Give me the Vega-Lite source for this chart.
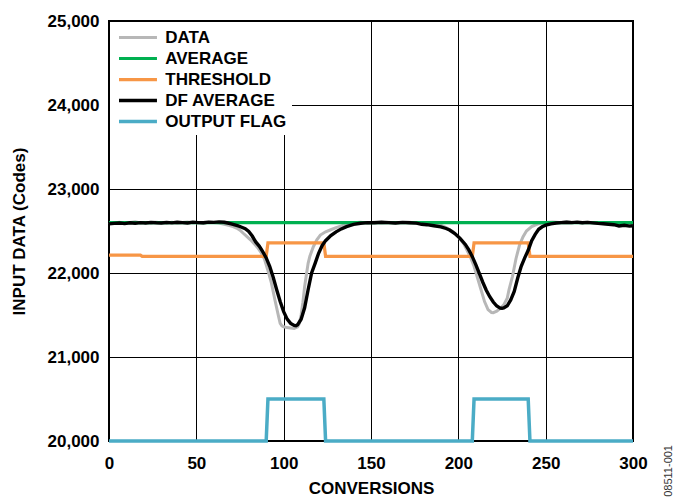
{
  "$schema": "https://vega.github.io/schema/vega-lite/v6.json",
  "width": 524,
  "height": 420,
  "autosize": {"type": "none"},
  "padding": {"left": 109, "top": 21, "right": 45, "bottom": 57},
  "background": "white",
  "config": {
    "font": "Liberation Sans",
    "view": {"stroke": "black", "strokeWidth": 2},
    "axis": {
      "grid": true, "gridColor": "black", "gridWidth": 1, "gridOpacity": 1,
      "domain": false, "ticks": false,
      "labelFont": "Liberation Sans", "labelFontWeight": "bold", "labelFontSize": 17, "labelColor": "black",
      "titleFont": "Liberation Sans", "titleFontWeight": "bold", "titleFontSize": 17, "titleColor": "black",
      "labelFlush": false, "labelOverlap": false
    },
    "legend": {
      "orient": "none", "legendX": 1, "legendY": 1,
      "fillColor": "white", "padding": 5, "rowPadding": 2,
      "symbolType": "M-1,0H3.34", "symbolSize": 306, "symbolStrokeWidth": 3.5, "symbolOffset": 2.25,
      "labelOffset": 27, "labelFont": "Liberation Sans", "labelFontWeight": "bold", "labelFontSize": 17, "labelColor": "black"
    }
  },
  "title": {
    "text": "08511-001", "orient": "right", "anchor": "end", "angle": -90, "frame": "group",
    "fontSize": 11, "fontWeight": "normal", "color": "#333333", "font": "Liberation Sans", "offset": 5, "dx": -4
  },
  "data": {"values": [
    {"s":"DATA","x":0,"y":22600},{"s":"DATA","x":3,"y":22595},{"s":"DATA","x":6,"y":22605},{"s":"DATA","x":9,"y":22590},{"s":"DATA","x":12,"y":22600},{"s":"DATA","x":15,"y":22610},{"s":"DATA","x":18,"y":22595},{"s":"DATA","x":21,"y":22600},{"s":"DATA","x":24,"y":22590},{"s":"DATA","x":27,"y":22605},{"s":"DATA","x":30,"y":22598},{"s":"DATA","x":33,"y":22590},{"s":"DATA","x":36,"y":22605},{"s":"DATA","x":39,"y":22595},{"s":"DATA","x":42,"y":22600},{"s":"DATA","x":45,"y":22608},{"s":"DATA","x":48,"y":22595},{"s":"DATA","x":51,"y":22600},{"s":"DATA","x":54,"y":22590},{"s":"DATA","x":57,"y":22605},{"s":"DATA","x":60,"y":22600},{"s":"DATA","x":63,"y":22595},{"s":"DATA","x":66,"y":22580},{"s":"DATA","x":69,"y":22565},{"s":"DATA","x":71,"y":22552},{"s":"DATA","x":73,"y":22535},{"s":"DATA","x":75,"y":22510},{"s":"DATA","x":77,"y":22470},{"s":"DATA","x":79,"y":22433},{"s":"DATA","x":81,"y":22395},{"s":"DATA","x":83,"y":22350},{"s":"DATA","x":85,"y":22305},{"s":"DATA","x":87,"y":22245},{"s":"DATA","x":89,"y":22165},{"s":"DATA","x":91,"y":22030},{"s":"DATA","x":93,"y":21880},{"s":"DATA","x":95,"y":21679},{"s":"DATA","x":97,"y":21490},{"s":"DATA","x":98,"y":21401},{"s":"DATA","x":99,"y":21370},{"s":"DATA","x":100,"y":21360},{"s":"DATA","x":102,"y":21350},{"s":"DATA","x":104,"y":21345},{"s":"DATA","x":106,"y":21340},{"s":"DATA","x":108,"y":21360},{"s":"DATA","x":109,"y":21400},{"s":"DATA","x":110,"y":21500},{"s":"DATA","x":111,"y":21650},{"s":"DATA","x":112,"y":21837},{"s":"DATA","x":113,"y":21980},{"s":"DATA","x":114,"y":22115},{"s":"DATA","x":115,"y":22200},{"s":"DATA","x":117,"y":22313},{"s":"DATA","x":119,"y":22395},{"s":"DATA","x":121,"y":22452},{"s":"DATA","x":124,"y":22490},{"s":"DATA","x":127,"y":22515},{"s":"DATA","x":130,"y":22540},{"s":"DATA","x":133,"y":22560},{"s":"DATA","x":136,"y":22580},{"s":"DATA","x":140,"y":22598},{"s":"DATA","x":144,"y":22605},{"s":"DATA","x":148,"y":22595},{"s":"DATA","x":152,"y":22605},{"s":"DATA","x":156,"y":22598},{"s":"DATA","x":160,"y":22605},{"s":"DATA","x":164,"y":22595},{"s":"DATA","x":168,"y":22600},{"s":"DATA","x":172,"y":22605},{"s":"DATA","x":176,"y":22595},{"s":"DATA","x":180,"y":22590},{"s":"DATA","x":184,"y":22585},{"s":"DATA","x":187,"y":22578},{"s":"DATA","x":190,"y":22570},{"s":"DATA","x":193,"y":22540},{"s":"DATA","x":197,"y":22492},{"s":"DATA","x":200,"y":22430},{"s":"DATA","x":203,"y":22350},{"s":"DATA","x":205,"y":22270},{"s":"DATA","x":207,"y":22185},{"s":"DATA","x":209,"y":22080},{"s":"DATA","x":211,"y":21940},{"s":"DATA","x":213,"y":21800},{"s":"DATA","x":215,"y":21660},{"s":"DATA","x":217,"y":21565},{"s":"DATA","x":219,"y":21530},{"s":"DATA","x":220,"y":21528},{"s":"DATA","x":222,"y":21545},{"s":"DATA","x":224,"y":21580},{"s":"DATA","x":226,"y":21620},{"s":"DATA","x":228,"y":21700},{"s":"DATA","x":229,"y":21800},{"s":"DATA","x":231,"y":21960},{"s":"DATA","x":233,"y":22170},{"s":"DATA","x":235,"y":22330},{"s":"DATA","x":237,"y":22430},{"s":"DATA","x":239,"y":22500},{"s":"DATA","x":242,"y":22552},{"s":"DATA","x":245,"y":22580},{"s":"DATA","x":247,"y":22591},{"s":"DATA","x":250,"y":22600},{"s":"DATA","x":254,"y":22608},{"s":"DATA","x":258,"y":22600},{"s":"DATA","x":262,"y":22610},{"s":"DATA","x":266,"y":22602},{"s":"DATA","x":270,"y":22598},{"s":"DATA","x":274,"y":22605},{"s":"DATA","x":278,"y":22595},{"s":"DATA","x":282,"y":22590},{"s":"DATA","x":286,"y":22585},{"s":"DATA","x":290,"y":22578},{"s":"DATA","x":294,"y":22570},{"s":"DATA","x":297,"y":22568},{"s":"DATA","x":300,"y":22570},
    {"s":"AVERAGE","x":0,"y":22600},{"s":"AVERAGE","x":300,"y":22600},
    {"s":"THRESHOLD","x":0,"y":22212},{"s":"THRESHOLD","x":18,"y":22212},{"s":"THRESHOLD","x":19,"y":22198},{"s":"THRESHOLD","x":90,"y":22198},{"s":"THRESHOLD","x":91,"y":22360},{"s":"THRESHOLD","x":123,"y":22360},{"s":"THRESHOLD","x":124,"y":22198},{"s":"THRESHOLD","x":208,"y":22198},{"s":"THRESHOLD","x":209,"y":22360},{"s":"THRESHOLD","x":240,"y":22360},{"s":"THRESHOLD","x":241,"y":22198},{"s":"THRESHOLD","x":300,"y":22198},
    {"s":"DF AVERAGE","x":0,"y":22585},{"s":"DF AVERAGE","x":3,"y":22590},{"s":"DF AVERAGE","x":6,"y":22595},{"s":"DF AVERAGE","x":9,"y":22588},{"s":"DF AVERAGE","x":12,"y":22598},{"s":"DF AVERAGE","x":15,"y":22592},{"s":"DF AVERAGE","x":18,"y":22600},{"s":"DF AVERAGE","x":21,"y":22595},{"s":"DF AVERAGE","x":24,"y":22603},{"s":"DF AVERAGE","x":27,"y":22598},{"s":"DF AVERAGE","x":30,"y":22595},{"s":"DF AVERAGE","x":33,"y":22602},{"s":"DF AVERAGE","x":36,"y":22597},{"s":"DF AVERAGE","x":39,"y":22604},{"s":"DF AVERAGE","x":42,"y":22600},{"s":"DF AVERAGE","x":45,"y":22596},{"s":"DF AVERAGE","x":48,"y":22605},{"s":"DF AVERAGE","x":51,"y":22600},{"s":"DF AVERAGE","x":54,"y":22598},{"s":"DF AVERAGE","x":57,"y":22606},{"s":"DF AVERAGE","x":60,"y":22602},{"s":"DF AVERAGE","x":63,"y":22608},{"s":"DF AVERAGE","x":66,"y":22604},{"s":"DF AVERAGE","x":68,"y":22595},{"s":"DF AVERAGE","x":70,"y":22585},{"s":"DF AVERAGE","x":72,"y":22572},{"s":"DF AVERAGE","x":74,"y":22560},{"s":"DF AVERAGE","x":76,"y":22545},{"s":"DF AVERAGE","x":78,"y":22527},{"s":"DF AVERAGE","x":80,"y":22495},{"s":"DF AVERAGE","x":82,"y":22440},{"s":"DF AVERAGE","x":84,"y":22370},{"s":"DF AVERAGE","x":86,"y":22320},{"s":"DF AVERAGE","x":88,"y":22255},{"s":"DF AVERAGE","x":90,"y":22180},{"s":"DF AVERAGE","x":92,"y":22080},{"s":"DF AVERAGE","x":94,"y":21950},{"s":"DF AVERAGE","x":96,"y":21800},{"s":"DF AVERAGE","x":98,"y":21660},{"s":"DF AVERAGE","x":100,"y":21540},{"s":"DF AVERAGE","x":102,"y":21450},{"s":"DF AVERAGE","x":104,"y":21400},{"s":"DF AVERAGE","x":106,"y":21375},{"s":"DF AVERAGE","x":107,"y":21372},{"s":"DF AVERAGE","x":108,"y":21385},{"s":"DF AVERAGE","x":110,"y":21450},{"s":"DF AVERAGE","x":112,"y":21585},{"s":"DF AVERAGE","x":114,"y":21800},{"s":"DF AVERAGE","x":116,"y":22000},{"s":"DF AVERAGE","x":118,"y":22115},{"s":"DF AVERAGE","x":120,"y":22235},{"s":"DF AVERAGE","x":122,"y":22325},{"s":"DF AVERAGE","x":124,"y":22385},{"s":"DF AVERAGE","x":127,"y":22445},{"s":"DF AVERAGE","x":130,"y":22490},{"s":"DF AVERAGE","x":133,"y":22525},{"s":"DF AVERAGE","x":136,"y":22552},{"s":"DF AVERAGE","x":140,"y":22578},{"s":"DF AVERAGE","x":144,"y":22592},{"s":"DF AVERAGE","x":148,"y":22600},{"s":"DF AVERAGE","x":152,"y":22598},{"s":"DF AVERAGE","x":156,"y":22604},{"s":"DF AVERAGE","x":160,"y":22600},{"s":"DF AVERAGE","x":164,"y":22596},{"s":"DF AVERAGE","x":168,"y":22603},{"s":"DF AVERAGE","x":172,"y":22598},{"s":"DF AVERAGE","x":176,"y":22594},{"s":"DF AVERAGE","x":179,"y":22580},{"s":"DF AVERAGE","x":182,"y":22575},{"s":"DF AVERAGE","x":186,"y":22562},{"s":"DF AVERAGE","x":190,"y":22550},{"s":"DF AVERAGE","x":193,"y":22530},{"s":"DF AVERAGE","x":195,"y":22512},{"s":"DF AVERAGE","x":198,"y":22470},{"s":"DF AVERAGE","x":201,"y":22413},{"s":"DF AVERAGE","x":204,"y":22340},{"s":"DF AVERAGE","x":206,"y":22275},{"s":"DF AVERAGE","x":208,"y":22195},{"s":"DF AVERAGE","x":210,"y":22100},{"s":"DF AVERAGE","x":212,"y":21995},{"s":"DF AVERAGE","x":214,"y":21890},{"s":"DF AVERAGE","x":216,"y":21795},{"s":"DF AVERAGE","x":218,"y":21718},{"s":"DF AVERAGE","x":220,"y":21655},{"s":"DF AVERAGE","x":222,"y":21607},{"s":"DF AVERAGE","x":224,"y":21582},{"s":"DF AVERAGE","x":225,"y":21580},{"s":"DF AVERAGE","x":226,"y":21585},{"s":"DF AVERAGE","x":228,"y":21610},{"s":"DF AVERAGE","x":230,"y":21680},{"s":"DF AVERAGE","x":232,"y":21780},{"s":"DF AVERAGE","x":234,"y":21940},{"s":"DF AVERAGE","x":236,"y":22080},{"s":"DF AVERAGE","x":238,"y":22180},{"s":"DF AVERAGE","x":240,"y":22270},{"s":"DF AVERAGE","x":242,"y":22385},{"s":"DF AVERAGE","x":244,"y":22460},{"s":"DF AVERAGE","x":246,"y":22520},{"s":"DF AVERAGE","x":248,"y":22550},{"s":"DF AVERAGE","x":250,"y":22570},{"s":"DF AVERAGE","x":253,"y":22585},{"s":"DF AVERAGE","x":256,"y":22595},{"s":"DF AVERAGE","x":259,"y":22600},{"s":"DF AVERAGE","x":262,"y":22604},{"s":"DF AVERAGE","x":265,"y":22600},{"s":"DF AVERAGE","x":268,"y":22605},{"s":"DF AVERAGE","x":271,"y":22598},{"s":"DF AVERAGE","x":274,"y":22602},{"s":"DF AVERAGE","x":277,"y":22596},{"s":"DF AVERAGE","x":280,"y":22590},{"s":"DF AVERAGE","x":283,"y":22586},{"s":"DF AVERAGE","x":286,"y":22580},{"s":"DF AVERAGE","x":289,"y":22575},{"s":"DF AVERAGE","x":292,"y":22560},{"s":"DF AVERAGE","x":295,"y":22568},{"s":"DF AVERAGE","x":298,"y":22558},{"s":"DF AVERAGE","x":300,"y":22562},
    {"s":"OUTPUT FLAG","x":0,"y":20000},{"s":"OUTPUT FLAG","x":90,"y":20000},{"s":"OUTPUT FLAG","x":91,"y":20500},{"s":"OUTPUT FLAG","x":123,"y":20500},{"s":"OUTPUT FLAG","x":124,"y":20000},{"s":"OUTPUT FLAG","x":208,"y":20000},{"s":"OUTPUT FLAG","x":209,"y":20500},{"s":"OUTPUT FLAG","x":240,"y":20500},{"s":"OUTPUT FLAG","x":241,"y":20000},{"s":"OUTPUT FLAG","x":300,"y":20000}
  ]},
  "mark": {"type": "line", "clip": false},
  "encoding": {
    "x": {"field": "x", "type": "quantitative", "scale": {"domain": [0, 300], "nice": false},
      "axis": {"values": [0, 50, 100, 150, 200, 250, 300], "format": "d", "title": "CONVERSIONS", "labelPadding": 14, "titlePadding": 9}},
    "y": {"field": "y", "type": "quantitative", "scale": {"domain": [20000, 25000], "nice": false, "zero": false},
      "axis": {"values": [20000, 21000, 22000, 23000, 24000, 25000], "format": ",d", "title": "INPUT DATA (Codes)", "labelPadding": 10, "titlePadding": 19}},
    "color": {"field": "s", "type": "nominal",
      "scale": {"domain": ["DATA", "AVERAGE", "THRESHOLD", "DF AVERAGE", "OUTPUT FLAG"], "range": ["#b7b7b7", "#00b050", "#f79646", "#000000", "#4bacc6"]},
      "legend": {"title": null, "labelFontWeight": "bold", "labelFontSize": 17}},
    "strokeWidth": {"field": "s", "type": "nominal",
      "scale": {"domain": ["DATA", "AVERAGE", "THRESHOLD", "DF AVERAGE", "OUTPUT FLAG"], "range": [3, 3.5, 3.5, 1.8, 3.5]},
      "legend": null},
    "order": {"field": "x", "type": "quantitative"}
  }
}
